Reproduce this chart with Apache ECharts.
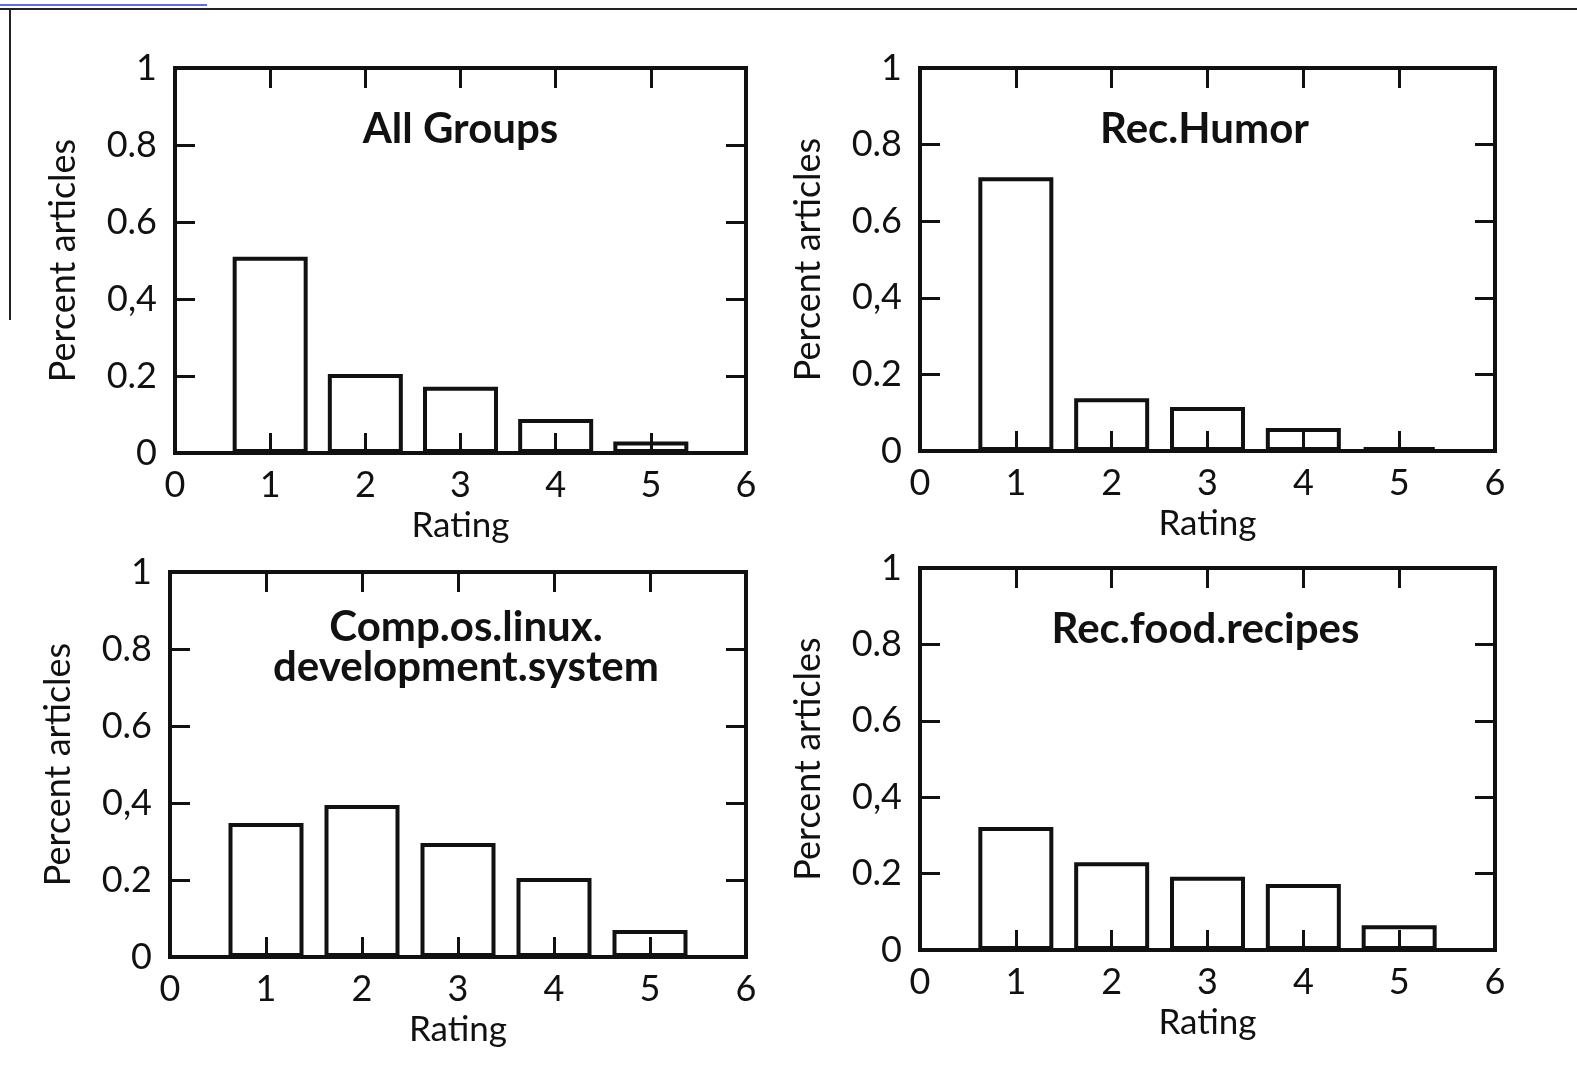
<!DOCTYPE html>
<html>
<head>
<meta charset="utf-8">
<title>Rating distributions</title>
<script src="https://cdn.jsdelivr.net/npm/echarts@6/dist/echarts.min.js"></script>
<style>
  html, body { margin: 0; padding: 0; background: #fff; }
  #main { width: 1577px; height: 1077px; }
</style>
</head>
<body>
<div id="main"></div>
<script>
// data
var ratings = [1, 2, 3, 4, 5];
var allGroups = [0.51, 0.205, 0.172, 0.088, 0.03];
var recHumor = [0.715, 0.138, 0.115, 0.06, 0.01];
var compLinux = [0.348, 0.395, 0.296, 0.205, 0.07];
var recFood = [0.322, 0.23, 0.192, 0.173, 0.065];
var panelTitles = ['All Groups', 'Rec.Humor', 'Comp.os.linux.\ndevelopment.system', 'Rec.food.recipes'];
var xTickLabels = ['0', '1', '2', '3', '4', '5', '6'];
var yTickLabels = ['0', '0.2', '0,4', '0.6', '0.8', '1'];   // the scan really prints "0,4"

var font = 'Lato';
var black = '#111';

// plot frames in px: left, top, width, height (+ small nudge of the title)
var grids = [
  {left: 175, top: 68, width: 571, height: 385, titleShift: -5},
  {left: 920, top: 68, width: 575, height: 383, titleShift: -8},
  {left: 170, top: 572, width: 576, height: 385, titleShift: 3},
  {left: 920, top: 568, width: 575, height: 382, titleShift: -7}
];
var seriesData = [allGroups, recHumor, compLinux, recFood];

var tickStyle = {show: true, inside: true, length: 20, lineStyle: {color: black, width: 3}};

var option = {
  backgroundColor: '#fff',
  animation: false,
  title: [],
  grid: [],
  xAxis: [],
  yAxis: [],
  series: [],
  graphic: [
    // scan edge leftovers
    {type: 'line', shape: {x1: 0, y1: 9, x2: 1577, y2: 9}, style: {stroke: '#222', lineWidth: 2}},
    {type: 'line', shape: {x1: 10, y1: 9, x2: 10, y2: 320}, style: {stroke: '#222', lineWidth: 2}},
    {type: 'line', shape: {x1: 0, y1: 5, x2: 207, y2: 5}, style: {stroke: '#5b6cf0', lineWidth: 2}}
  ]
};

grids.forEach(function (g, i) {
  option.grid.push({
    left: g.left, top: g.top, width: g.width, height: g.height,
    show: true, borderColor: black, borderWidth: 4, backgroundColor: 'transparent'
  });

  var twoLines = panelTitles[i].indexOf('\n') >= 0;
  option.title.push({
    text: panelTitles[i],
    left: g.left + g.width / 2 + g.titleShift,
    top: g.top + (twoLines ? 30 : 36),
    textAlign: 'center',
    textStyle: {fontFamily: font, fontWeight: 'bold', fontSize: 42, color: black, lineHeight: 40}
  });

  // bottom axis (labels + inner ticks)
  option.xAxis.push({
    type: 'value', gridIndex: i, min: 0, max: 6, interval: 1,
    name: 'Rating', nameLocation: 'middle', nameGap: 55,
    nameTextStyle: {fontFamily: font, fontSize: 35, color: black},
    axisLine: {show: false, onZero: false},
    axisTick: tickStyle,
    axisLabel: {
      fontFamily: font, fontSize: 36, color: black, margin: 14,
      formatter: function (v) { return xTickLabels[Math.round(v)]; }
    },
    splitLine: {show: false}
  });
  // top axis, ticks only
  option.xAxis.push({
    type: 'value', gridIndex: i, position: 'top', min: 0, max: 6, interval: 1,
    axisLine: {show: false, onZero: false},
    axisTick: tickStyle,
    axisLabel: {show: false},
    splitLine: {show: false}
  });
  // left axis
  option.yAxis.push({
    type: 'value', gridIndex: i, position: 'left', min: 0, max: 1, interval: 0.2,
    name: 'Percent articles', nameLocation: 'middle', nameGap: 94, nameRotate: 90,
    nameTextStyle: {fontFamily: font, fontSize: 36, color: black},
    axisLine: {show: false, onZero: false},
    axisTick: tickStyle,
    axisLabel: {
      fontFamily: font, fontSize: 36, color: black, margin: 18,
      formatter: function (v) { return yTickLabels[Math.round(v * 5)]; }
    },
    splitLine: {show: false}
  });
  // right axis, ticks only
  option.yAxis.push({
    type: 'value', gridIndex: i, position: 'right', min: 0, max: 1, interval: 0.2,
    axisLine: {show: false, onZero: false},
    axisTick: tickStyle,
    axisLabel: {show: false},
    splitLine: {show: false}
  });

  option.series.push({
    type: 'bar',
    xAxisIndex: i * 2,
    yAxisIndex: i * 2,
    barWidth: 75,
    data: ratings.map(function (r, j) { return [r, seriesData[i][j]]; }),
    itemStyle: {color: 'rgba(255,255,255,0)', borderColor: black, borderWidth: 4},
    emphasis: {disabled: true}
  });
});

var chart = echarts.init(document.getElementById('main'));
chart.setOption(option);
</script>
</body>
</html>
